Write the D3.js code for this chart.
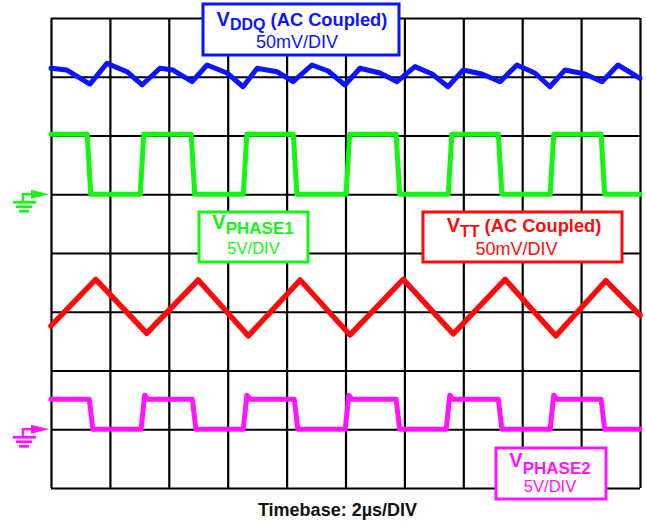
<!DOCTYPE html>
<html>
<head>
<meta charset="utf-8">
<script src="https://cdn.jsdelivr.net/npm/d3@7"></script>
<style>
html,body{margin:0;padding:0;background:#fff;}
svg{display:block;font-family:"Liberation Sans",Arial,Helvetica,sans-serif;}
</style>
</head>
<body>
<svg id="chart" width="646" height="523"></svg>
<script>
// ---------- DATA ----------
// time axis: 10 divisions x 2 µs
const timeTicks = [0,2,4,6,8,10,12,14,16,18,20];
const divTicks = [0,1,2,3,4,5,6,7,8];

// VDDQ (AC coupled, 50 mV/div), time in µs, value in mV
const vddqTime = [0,0.54,1.32,1.90,2.58,3.09,3.70,4.14,4.79,5.30,5.98,6.52,7.00,7.67,8.22,8.86,9.41,9.98,10.49,11.17,11.75,12.36,12.94,13.48,13.99,14.63,15.25,15.82,16.43,16.94,17.45,18.13,18.71,19.25,20];
const vddqMv   = [7.2,5.7,-6.2,11.4,4.3,-7.0,7.2,5.7,-4.2,10.0,3.2,-8.5,7.2,4.3,-4.2,10.0,4.9,-7.0,7.2,3.2,-4.2,8.6,2.3,-8.5,5.7,2.3,-4.2,10.0,3.2,-8.5,5.7,2.3,-4.2,10.0,-1.3];

// VTT (AC coupled, 50 mV/div)
const vttTime = [0,1.52,3.25,5.00,6.70,8.46,10.15,11.96,13.66,15.42,17.14,18.84,20];
const vttMv   = [-12.1,27.6,-18.3,27.0,-20.6,27.0,-19.8,27.6,-18.9,27.6,-20.6,26.4,-3.0];

// PHASE1 (5 V/div): switching edge times (µs), starts high
const phase1Edges = [1.29,3.09,4.82,6.59,8.29,10.08,11.78,13.55,15.25,17.01,18.74];
const phase1High = 5.1, phase1Low = 0;

// PHASE2 (5 V/div): switching edge times (µs), starts high
const phase2Edges = [1.36,3.12,4.86,6.59,8.32,10.05,11.78,13.48,15.25,17.01,18.74];
const phase2High = 2.55, phase2Low = 0, phase2Overshoot = 2.9;

// ---------- LAYOUT ----------
const svg = d3.select("#chart");
const L = 51, R = 640, T = 18, B = 488;
const x = d3.scaleLinear().domain([0,20]).range([L,R]);
const yDiv = d3.scaleLinear().domain([0,8]).range([T,B]);

// channel scales (reference division, units/div)
function chanScale(refDiv, perDiv){
  return d3.scaleLinear().domain([-perDiv, perDiv]).range([yDiv(refDiv+1), yDiv(refDiv-1)]);
}
const yVddq = chanScale(1, 50);
const yP1   = chanScale(3, 5);
const yVtt  = chanScale(5, 50);
const yP2   = chanScale(7, 5);

// ---------- GRID via axes ----------
const gx = svg.append("g").attr("transform",`translate(0,${B})`)
  .call(d3.axisBottom(x).tickValues(timeTicks).tickSize(-(B-T)).tickFormat(""));
const gy = svg.append("g").attr("transform",`translate(${L},0)`)
  .call(d3.axisLeft(yDiv).tickValues(divTicks).tickSize(-(R-L)).tickFormat(""));
[gx,gy].forEach(g=>{
  g.select(".domain").remove();
  g.selectAll(".tick line").attr("stroke","#000").attr("stroke-width",2.2);
});

// ---------- TRACES ----------
function stepPoints(edges, startHigh, hi, lo, tr, over){
  const pts = [[0, startHigh?hi:lo]];
  let high = startHigh;
  edges.forEach(e=>{
    pts.push([e - tr/2, high?hi:lo]);
    high = !high;
    if(high && over!==undefined){
      pts.push([e + tr/2, over]);
      pts.push([e + tr*1.5, hi]);
    } else {
      pts.push([e + tr/2, high?hi:lo]);
    }
  });
  pts.push([20, high?hi:lo]);
  return pts;
}

const line = (ys)=> d3.line().x(d=>x(d[0])).y(d=>ys(d[1]));

function drawTrace(pts, ys, color, w){
  svg.append("path").datum(pts)
    .attr("d", line(ys))
    .attr("fill","none").attr("stroke",color)
    .attr("stroke-width",w).attr("stroke-linejoin","round").attr("stroke-linecap","round");
}

drawTrace(vddqTime.map((t,i)=>[t,vddqMv[i]]), yVddq, "#0a14ff", 5);
drawTrace(stepPoints(phase1Edges,true,phase1High,phase1Low,0.12), yP1, "#14f514", 5);
drawTrace(vttTime.map((t,i)=>[t,vttMv[i]]), yVtt, "#ff0a0a", 5.5);
drawTrace(stepPoints(phase2Edges,true,phase2High,phase2Low,0.12,phase2Overshoot), yP2, "#ff14ff", 5);

// ---------- GROUND MARKERS ----------
function ground(yRef, color){
  const g = svg.append("g").attr("transform",`translate(0,${yRef})`);
  g.append("path").attr("d","M23,8 V0 H33").attr("fill","none").attr("stroke",color).attr("stroke-width",2.5);
  g.append("path").attr("d","M31,-4.5 L49,0 L31,4.5 Z").attr("fill",color);
  [[13,36,8],[16,32,12.5],[19,29,17]].forEach(b=>{
    g.append("line").attr("x1",b[0]).attr("x2",b[1]).attr("y1",b[2]).attr("y2",b[2])
      .attr("stroke",color).attr("stroke-width",2.8);
  });
}
ground(yP1(0), "#14f514");
ground(yP2(0), "#ff14ff");

// ---------- LABEL BOXES ----------
function labelBox(o){
  const g = svg.append("g");
  g.append("rect").attr("x",o.x).attr("y",o.y).attr("width",o.w).attr("height",o.h)
    .attr("fill","#fff").attr("stroke",o.color).attr("stroke-width",3);
  const t1 = g.append("text").attr("x",o.c1).attr("y",o.b1).attr("text-anchor","middle")
    .attr("fill",o.color).attr("font-weight","bold");
  t1.append("tspan").attr("font-size",o.vs).text("V");
  t1.append("tspan").attr("font-size",o.ss).attr("dy",o.sub).text(o.subText);
  if(o.rest){
    t1.append("tspan").attr("font-size",o.rs).attr("dy",-o.sub).text(" " + o.rest);
  }
  g.append("text").attr("x",o.c2).attr("y",o.b2).attr("text-anchor","middle")
    .attr("fill",o.color).attr("font-size",o.fs2).text(o.line2);
}

labelBox({x:203,y:4,w:196,h:51,color:"#0a14ff",c1:302,b1:26,vs:20,ss:16,sub:4,subText:"DDQ",rest:"(AC Coupled)",rs:18.3,c2:297,b2:48,fs2:18,line2:"50mV/DIV"});
labelBox({x:199,y:212,w:109,h:50,color:"#14f514",c1:253,b1:229,vs:20,ss:17,sub:5,subText:"PHASE1",c2:253.5,b2:253.5,fs2:16.5,line2:"5V/DIV"});
labelBox({x:423,y:212,w:199,h:50,color:"#ff0a0a",c1:524,b1:232,vs:20,ss:16,sub:5,subText:"TT",rest:"(AC Coupled)",rs:18.3,c2:516.5,b2:255,fs2:18,line2:"50mV/DIV"});
labelBox({x:496,y:448,w:110,h:51,color:"#ff14ff",c1:550,b1:467,vs:20,ss:17,sub:7,subText:"PHASE2",c2:550,b2:492,fs2:16.5,line2:"5V/DIV"});

// ---------- TIMEBASE ----------
svg.append("text").attr("x",337.5).attr("y",516).attr("text-anchor","middle")
  .attr("font-weight","bold").attr("font-size",18).attr("fill","#111")
  .text("Timebase: 2µs/DIV");
</script>
</body>
</html>
